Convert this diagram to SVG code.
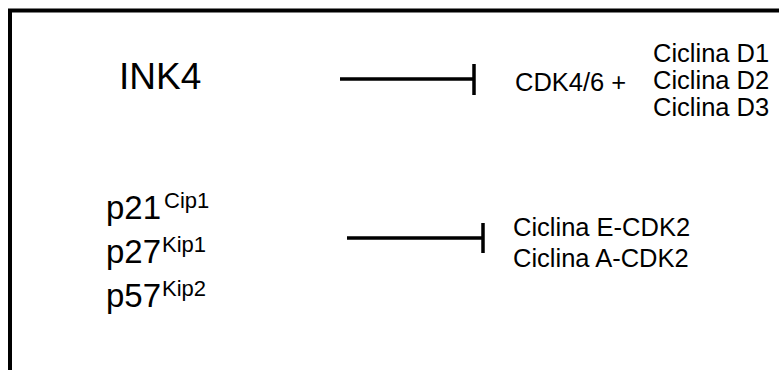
<svg xmlns="http://www.w3.org/2000/svg" width="779" height="370" viewBox="0 0 779 370">
  <style>
    .frame { fill: none; stroke: #000; stroke-width: 4; }
    .inhib { fill: none; stroke: #000; stroke-width: 3.5; }
    .big { font-family: "Liberation Sans", Arial, sans-serif; font-size: 33px; fill: #000; }
    .sup { font-size: 22px; }
    .lbl { font-family: "Liberation Sans", Arial, sans-serif; font-size: 25.5px; fill: #000; }
  </style>

  <!-- outer frame (open at right and bottom) -->
  <path class="frame" d="M10,372 V10.5 H781"/>

  <g id="ink4">
    <text class="big" x="119" y="89" style="font-size:37px">INK4</text>
  </g>

  <g id="cdk46-cyclinD">
    <text class="lbl" x="515" y="91">CDK4/6 +</text>
    <text class="lbl" x="653" y="62">Ciclina D1</text>
    <text class="lbl" x="653" y="89">Ciclina D2</text>
    <text class="lbl" x="653" y="116">Ciclina D3</text>
  </g>

  <g id="cip-kip">
    <text class="big" x="106" y="219">p21<tspan class="sup" dx="3" dy="-11">Cip1</tspan></text>
    <text class="big" x="106" y="263">p27<tspan class="sup" dx="1" dy="-11">Kip1</tspan></text>
    <text class="big" x="106" y="307">p57<tspan class="sup" dx="1" dy="-11">Kip2</tspan></text>
  </g>

  <g id="cyclinE-A-cdk2">
    <text class="lbl" x="513" y="236">Ciclina E-CDK2</text>
    <text class="lbl" x="513" y="267">Ciclina A-CDK2</text>
  </g>

  <g id="connectors">
    <path class="inhib" d="M340,79 H474 M474,64 V95"/>
    <path class="inhib" d="M347,238 H483 M483,223 V253"/>
  </g>
</svg>
